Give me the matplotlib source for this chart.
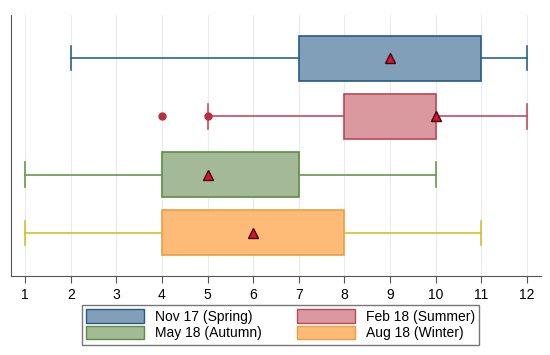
import matplotlib
matplotlib.use("Agg")
import matplotlib.pyplot as plt
from matplotlib.patches import Patch

plt.rcParams['font.family'] = ['Liberation Sans', 'DejaVu Sans']

categories = ["Nov 17 (Spring)", "Feb 18 (Summer)", "May 18 (Autumn)", "Aug 18 (Winter)"]
q1 = [7, 8, 4, 4]
q3 = [11, 10, 7, 8]
medians = [9, 9, 5, 6]
whislo = [2, 5, 1, 1]
whishi = [12, 12, 10, 11]
means = [9, 10, 5, 6]
outliers = [[], [4, 5], [], []]
xticks = list(range(1, 13))

faces = ["#819fb8", "#d9999e", "#a4ba96", "#fdbb77"]
edges = ["#235b86", "#bf4656", "#5e8c45", "#e8a040"]
whisk = ["#2a6590", "#c44d5c", "#6a9650", "#d6bd2e"]

fig = plt.figure(figsize=(5.5, 3.55), dpi=100)
ax = fig.add_axes([0.02, 0.2225, 0.9636, 0.735])

positions = [4, 3, 2, 1]
for i in range(len(categories)):
    st = [dict(label=categories[i], q1=q1[i], q3=q3[i], med=medians[i],
               whislo=whislo[i], whishi=whishi[i], mean=means[i],
               fliers=outliers[i])]
    ax.bxp(st, positions=[positions[i]], widths=0.77, vert=False,
           patch_artist=True, showmeans=True, showfliers=True,
           boxprops=dict(facecolor=faces[i], edgecolor=edges[i], linewidth=1.2),
           whiskerprops=dict(color=whisk[i], linewidth=1.2),
           capprops=dict(color=whisk[i], linewidth=1.2),
           medianprops=dict(linewidth=0),
           meanprops=dict(marker="^", markerfacecolor="#e0102f",
                          markeredgecolor="#3a0a10", markersize=7),
           flierprops=dict(marker="o", markerfacecolor="#b8303f",
                           markeredgecolor="#b8303f", markersize=5),
           capwidths=0.42, zorder=3)

ax.set_xlim(0.69, 12.31)
ax.set_ylim(0.26, 4.74)
ax.set_xticks(xticks)
ax.set_xticklabels([str(t) for t in xticks], fontsize=10)
ax.set_yticks([])
ax.grid(axis="x", color="#e6ecef", linewidth=0.8, zorder=0)
ax.set_axisbelow(True)
for s in ["top", "right"]:
    ax.spines[s].set_visible(False)
for s in ["left", "bottom"]:
    ax.spines[s].set_color("#555555")
ax.tick_params(axis="x", colors="#555555", labelcolor="black", length=5)

order = [0, 2, 1, 3]
handles = [Patch(facecolor=faces[i], edgecolor=edges[i], label=categories[i]) for i in order]
leg = fig.legend(handles=handles, ncol=2, loc="lower center", bbox_to_anchor=(0.51, 0.01),
                 fontsize=10, frameon=True, fancybox=False, edgecolor="#555555",
                 handlelength=4.2, handleheight=1.1, columnspacing=2.5,
                 borderpad=0.3, labelspacing=0.15, handletextpad=0.8)
leg.get_frame().set_linewidth(1.0)

fig.savefig("out.png", dpi=100)
